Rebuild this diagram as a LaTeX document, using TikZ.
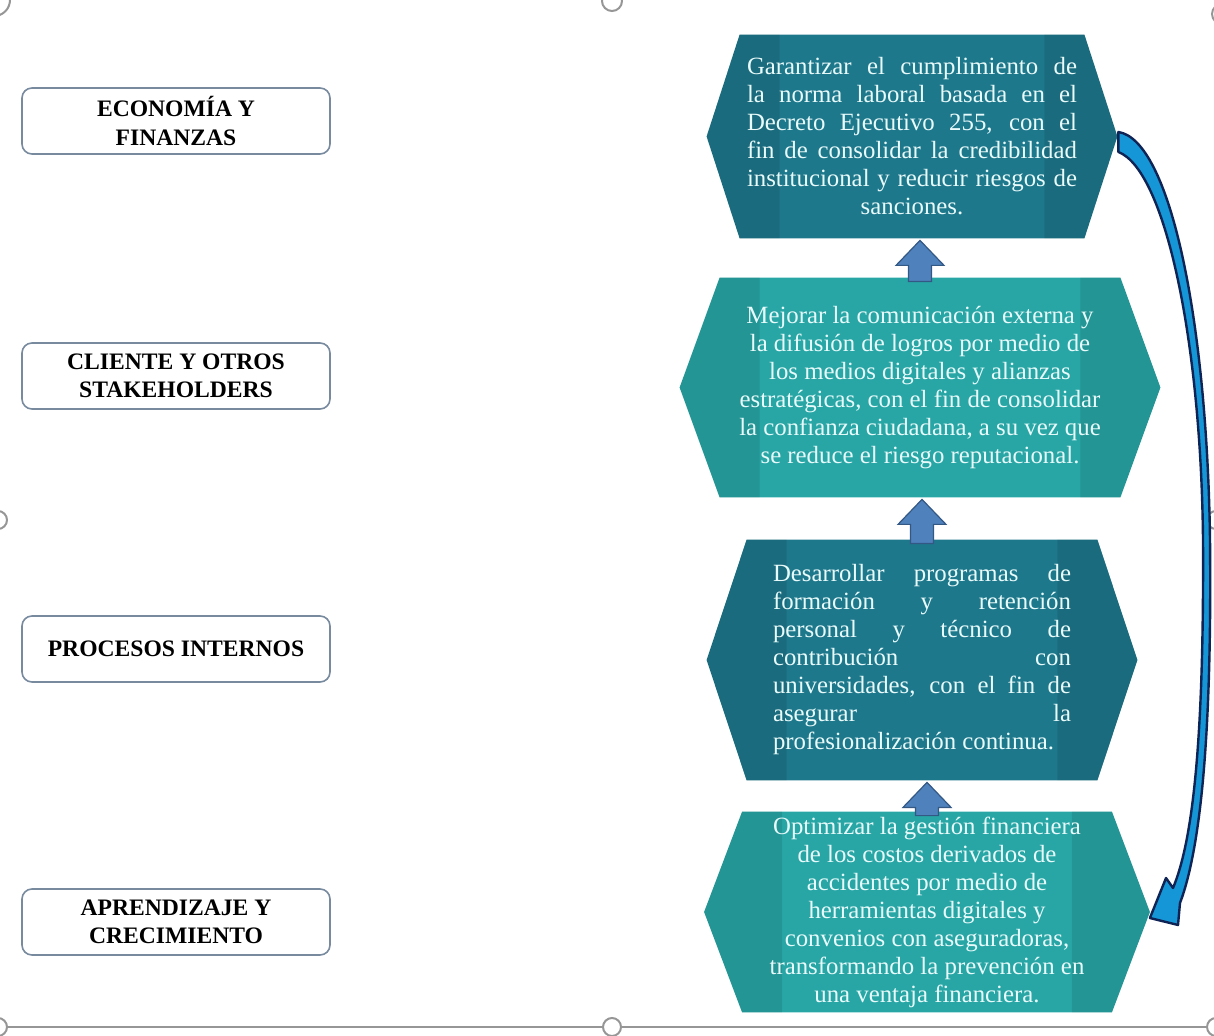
\documentclass[tikz,border=0pt]{standalone}
\usepackage{fontspec}
\setmainfont{Liberation Serif}
\usetikzlibrary{calc,backgrounds}
\definecolor{tealdark}{RGB}{30,120,140}
\definecolor{teallight}{RGB}{40,166,166}
\definecolor{hextext}{RGB}{232,250,250}
\definecolor{boxgray}{RGB}{120,138,158}
\definecolor{arrowfill}{RGB}{79,129,189}
\definecolor{arrowline}{RGB}{52,88,132}
\definecolor{curvefill}{RGB}{20,150,215}
\definecolor{curveline}{RGB}{15,35,85}
\definecolor{handlegray}{RGB}{150,150,150}
\begin{document}
\begin{tikzpicture}[x=0.5pt,y=-0.5pt,
  areabox/.style={draw=boxgray,line width=0.8pt,rounded corners=5pt,minimum width=154pt,minimum height=33pt,inner sep=0pt,align=center,font=\bfseries\fontsize{11.8}{14}\selectfont},
  hexnode/.style={rectangle,inner sep=0pt,align=center,text=hextext,font=\fontsize{12.4}{14}\selectfont},
  blockarrow/.style={fill=arrowfill,draw=arrowline,line width=0.6pt,line join=miter},
  curvearrow/.style={fill=curvefill,draw=curveline,line width=1.2pt,line join=round}]
\useasboundingbox (0,0) rectangle (1214,1036);
% frame handles
\draw[handlegray,line width=1.2pt] (0,1027)--(1214,1027);
\foreach \p/\r in {(612,1027)/9,(612,1)/10,(-2,520)/9,(1216,520)/9,(-2,1027)/9,(1216,1027)/9,(-6,0)/16,(1222,14)/10}
{
\filldraw[fill=white,draw=handlegray,line width=1pt] \p circle (\r);
}
% perspectives
\node[areabox] (econ) at (176,121) {ECONOMÍA Y\\FINANZAS};
\node[areabox] (client) at (176,376) {CLIENTE Y OTROS\\STAKEHOLDERS};
\node[areabox] (proc) at (176,649) {PROCESOS INTERNOS};
\node[areabox] (learn) at (176,922) {APRENDIZAJE Y\\CRECIMIENTO};
% objectives
\node[hexnode,minimum width=205pt,minimum height=101.5pt] (h1) at (912,136.5)
{\makebox[165pt][s]{Garantizar el cumplimiento de}\\
\makebox[165pt][s]{la norma laboral basada en el}\\
\makebox[165pt][s]{Decreto Ejecutivo 255, con el}\\
\makebox[165pt][s]{fin de consolidar la credibilidad}\\
\makebox[165pt][s]{institucional y reducir riesgos de}\\
sanciones.};
\node[hexnode,minimum width=240pt,minimum height=109.5pt] (h2) at (920,387.5)
{Mejorar la comunicación externa y\\
la difusión de logros por medio de\\
los medios digitales y alianzas\\
estratégicas, con el fin de consolidar\\
la confianza ciudadana, a su vez que\\
se reduce el riesgo reputacional.};
\node[hexnode,minimum width=215pt,minimum height=120pt] (h3) at (922,660)
{\makebox[149pt][s]{Desarrollar programas de}\\
\makebox[149pt][s]{formación y retención}\\
\makebox[149pt][s]{personal y técnico de}\\
\makebox[149pt][s]{contribución con}\\
\makebox[149pt][s]{universidades, con el fin de}\\
\makebox[149pt][s]{asegurar la}\\
\makebox[149pt][l]{profesionalización continua.}};
\node[hexnode,minimum width=222.5pt,minimum height=100pt] (h4) at (927,912)
{Optimizar la gestión financiera\\
de los costos derivados de\\
accidentes por medio de\\
herramientas digitales y\\
convenios con aseguradoras,\\
transformando la prevención en\\
una ventaja financiera.};
\begin{pgfonlayer}{background}
\foreach \n/\i/\c in {h1/33/tealdark,h2/40/teallight,h3/40/tealdark,h4/38/teallight}
{
\fill[\c] (\n.west) -- ($(\n.north west)+(\i,0)$) -- ($(\n.north east)+(-\i,0)$) -- (\n.east)
  -- ($(\n.south east)+(-\i,0)$) -- ($(\n.south west)+(\i,0)$) -- cycle;
\fill[black,opacity=0.1] (\n.west) -- ($(\n.north west)+(\i,0)$) -- ($(\n.north west)+(\i+40,0)$)
  -- ($(\n.south west)+(\i+40,0)$) -- ($(\n.south west)+(\i,0)$) -- cycle;
\fill[black,opacity=0.1] (\n.east) -- ($(\n.north east)+(-\i,0)$) -- ($(\n.north east)+(-\i-40,0)$)
  -- ($(\n.south east)+(-\i-40,0)$) -- ($(\n.south east)+(-\i,0)$) -- cycle;
}
\end{pgfonlayer}
% block arrows
\foreach \a/\b in {h2/h1,h3/h2,h4/h3}
{
\filldraw[blockarrow] ($(\a.north)+(-11.5,4)$) -- ($(\a.north |- \b.south)+(-11.5,27)$)
  -- ($(\a.north |- \b.south)+(-24,27)$) -- ($(\a.north |- \b.south)+(0,2)$)
  -- ($(\a.north |- \b.south)+(24,27)$) -- ($(\a.north |- \b.south)+(11.5,27)$)
  -- ($(\a.north)+(11.5,4)$) -- cycle;
}
% curved arrow
\filldraw[curvearrow] ($(h1.east)+(1,-4.5)$) .. controls (1170,140) and (1207,320) .. (1210,540)
  .. controls (1212,740) and (1200,850) .. (1180,903) -- (1178,925) -- ($(h4.east)+(0,6)$)
  -- (1166,878) -- (1173,888) .. controls (1193,840) and (1204,740) .. (1203,540)
  .. controls (1201,340) and (1165,170) .. ($(h1.east)+(1,15.5)$) -- cycle;
\end{tikzpicture}
\end{document}
